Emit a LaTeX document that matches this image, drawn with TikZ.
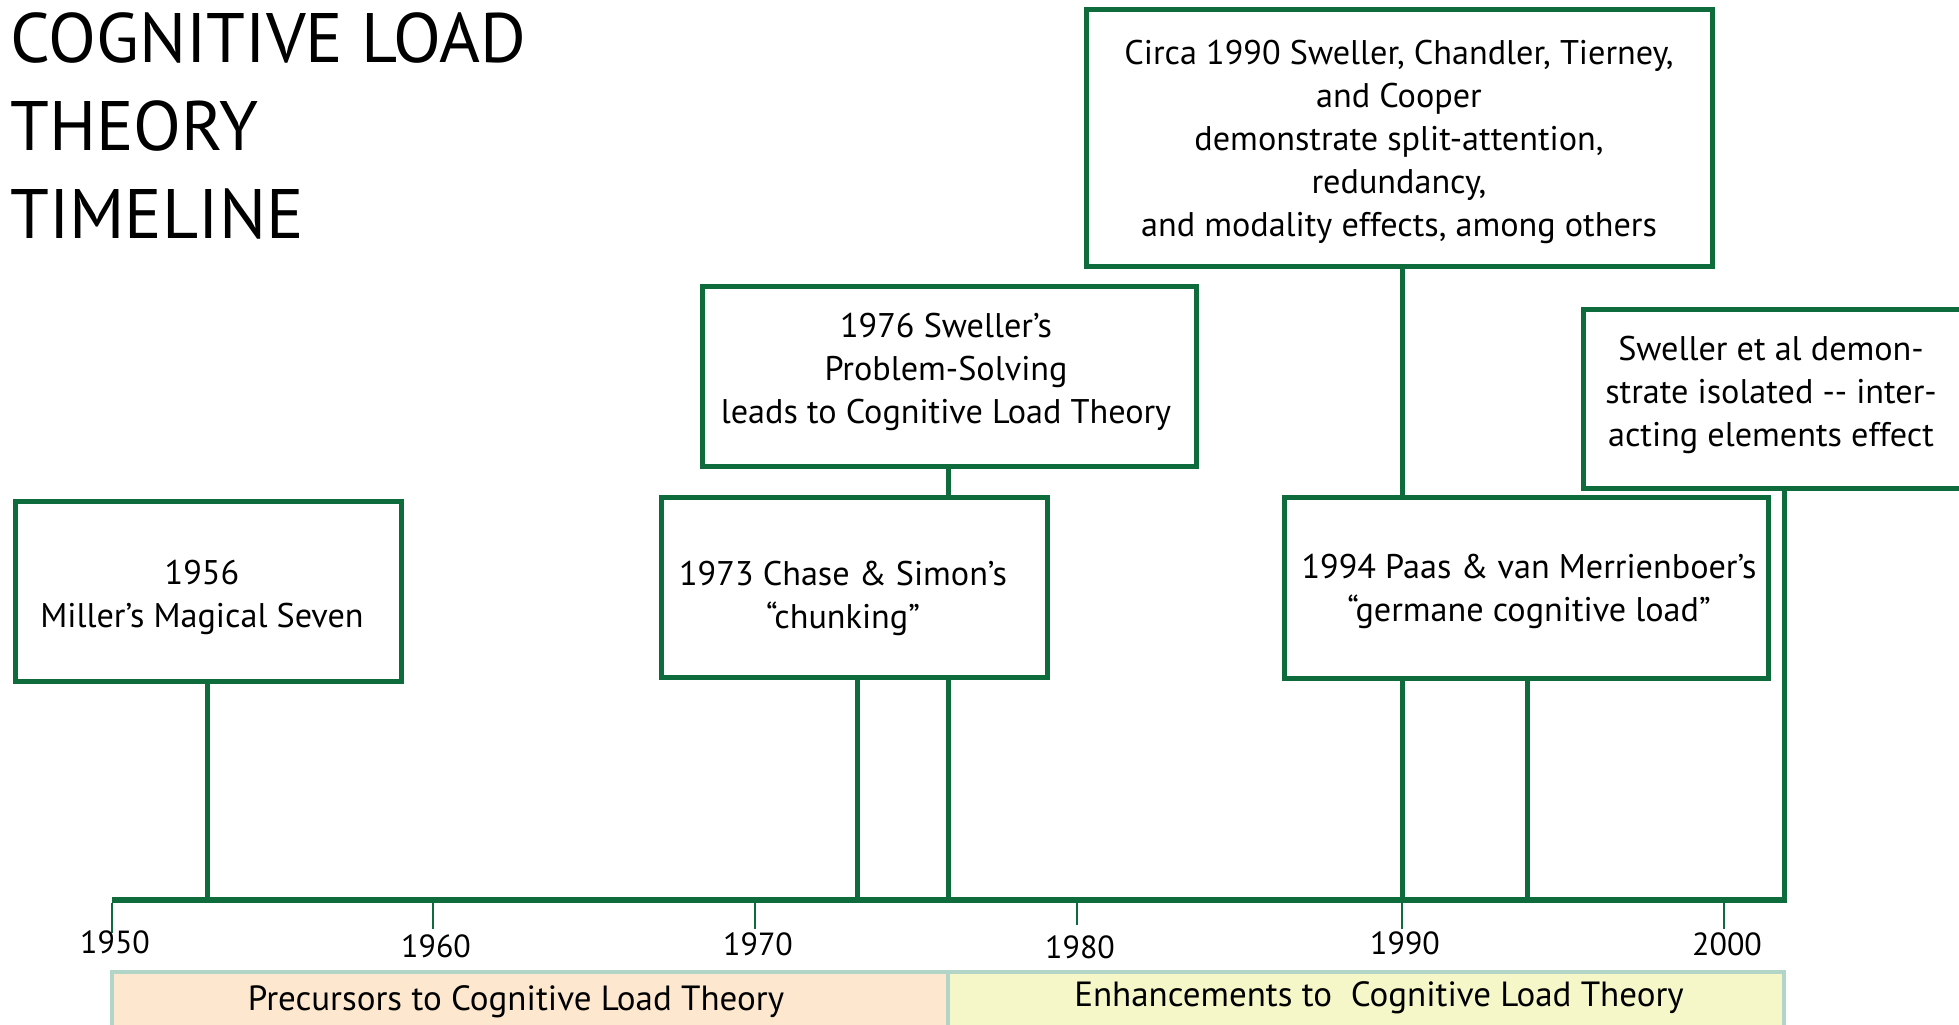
\documentclass[tikz,border=0pt]{standalone}
\usepackage{fontspec}
\setmainfont{PT Sans}
\definecolor{cgreen}{HTML}{0E6B3C}
\definecolor{peach}{HTML}{FDE8CF}
\definecolor{lyellow}{HTML}{F5F7C8}
\definecolor{barline}{HTML}{B3D5C8}
\begin{document}
\begin{tikzpicture}[x=0.5pt,y=-0.5pt,
  evbox/.style={draw=cgreen, line width=2.5pt, fill=white, inner sep=0pt},
  evtext/.style={inner sep=0pt, align=center, font=\fontsize{17.1}{21.5}\selectfont},
  conn/.style={draw=cgreen, line width=2.5pt},
  axisline/.style={draw=cgreen, line width=3pt},
  tickline/.style={draw=cgreen, line width=1pt},
  yearlbl/.style={font=\fontsize{16}{19}\selectfont, inner sep=0pt},
  titlelbl/.style={anchor=base west, inner sep=0pt, font=\fontsize{35}{44}\selectfont},
  barbox/.style={draw=barline, line width=2pt, inner sep=0pt, minimum height=28pt},
  bartext/.style={inner sep=0pt, font=\fontsize{17.5}{19}\selectfont}
]
\useasboundingbox (0,0) rectangle (1959,1024);
\fill[white] (0,0) rectangle (1959,1024);

% title
\node[titlelbl] (t1) at (10,62) {COGNITIVE LOAD};
\node[titlelbl] (t2) at (10,150) {THEORY};
\node[titlelbl] (t3) at (10,238) {TIMELINE};

% bars
\node[barbox, fill=peach, minimum width=418pt] (pre) at (530,1000) {};
\node[barbox, fill=lyellow, minimum width=418pt] (enh) at (1366,1000) {};
\node[bartext] (pret) at (516,1002) {Precursors to Cognitive Load Theory};
\node[bartext] (enht) at (1379,998) {Enhancements to\ \ Cognitive Load Theory};

% event boxes
\node[evbox, minimum width=193pt, minimum height=90pt] (miller) at (208,591) {};
\node[evbox, minimum width=193pt, minimum height=90pt] (chase) at (854,587) {};
\node[evbox, minimum width=247pt, minimum height=90pt] (sw76) at (949,376) {};
\node[evbox, minimum width=313pt, minimum height=128.5pt] (circa) at (1399,137.5) {};
\node[evbox, minimum width=242pt, minimum height=90.5pt] (paas) at (1526,587.5) {};
\node[evbox, minimum width=191pt, minimum height=89.5pt] (swel) at (1774,398.5) {};

% event texts
\node[evtext] (millert) at (202,597) {1956\\Miller’s Magical Seven};
\node[evtext] (chaset) at (843,598) {1973 Chase \& Simon’s\\“chunking”};
\node[evtext] (sw76t) at (946,372) {1976 Sweller’s\\Problem-Solving\\leads to Cognitive Load Theory};
\node[evtext] (circat) at (1399,142) {Circa 1990 Sweller, Chandler, Tierney,\\and Cooper\\demonstrate split-attention,\\redundancy,\\and modality effects, among others};
\node[evtext] (paast) at (1529,591) {1994 Paas \& van Merrienboer’s\\“germane cognitive load”};
\node[evtext] (swelt) at (1771,395) {Sweller et al demon-\\strate isolated -{}- inter-\\acting elements effect};

% axis positions
\coordinate (axL) at (112,900);
\coordinate (axR) at (1787,900);
\coordinate (y53) at (207,900);
\coordinate (y73) at (857,900);
\coordinate (y76) at (948,900);
\coordinate (y90) at (1402,900);
\coordinate (y94) at (1527,900);
\coordinate (y02) at (1784,900);

% connectors
\draw[conn] (y53) -- (y53 |- miller.south);
\draw[conn] (y73) -- (y73 |- chase.south);
\draw[conn] (y76) -- (y76 |- chase.south);
\draw[conn] (y76 |- chase.north) -- (y76 |- sw76.south);
\draw[conn] (y90) -- (y90 |- paas.south);
\draw[conn] (y90 |- paas.north) -- (y90 |- circa.south);
\draw[conn] (y94) -- (y94 |- paas.south);
\draw[conn] (y02) -- (y02 |- swel.south);

% axis
\draw[axisline] (axL) -- (axR);

% ticks and labels
\foreach \yr/\xx/\ly/\len in {1950/112/942/30,1960/433/946/26,1970/755/944/26,1980/1077/947/22,1990/1402/943/26,2000/1724/944/26}{
  \coordinate (k\yr) at (\xx,903);
  \draw[tickline] (k\yr) -- ++(0,\len);
  \node[yearlbl] (l\yr) at (\xx+3,\ly) {\yr};
}
\end{tikzpicture}
\end{document}
